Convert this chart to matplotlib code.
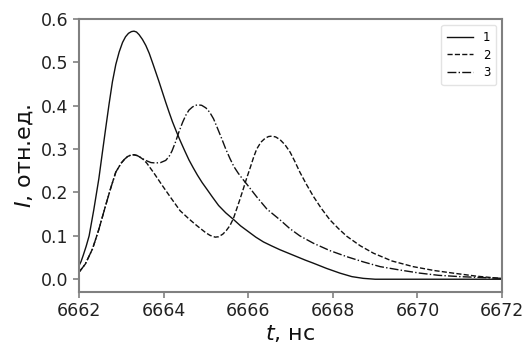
import matplotlib
matplotlib.use("Agg")
import matplotlib.pyplot as plt

# values
t1 = [6662.0, 6662.05, 6662.1, 6662.17, 6662.24, 6662.35, 6662.47, 6662.55, 6662.63, 6662.71,
      6662.79, 6662.87, 6662.95, 6663.03, 6663.1, 6663.17, 6663.24, 6663.3, 6663.36, 6663.42,
      6663.5, 6663.58, 6663.66, 6663.75, 6663.82, 6663.89, 6663.97, 6664.05, 6664.13, 6664.21,
      6664.3, 6664.39, 6664.5, 6664.6, 6664.7, 6664.8, 6664.91, 6665.02, 6665.15, 6665.3,
      6665.47, 6665.65, 6665.82, 6666.0, 6666.18, 6666.36, 6666.55, 6666.75, 6666.95, 6667.15,
      6667.35, 6667.54, 6667.85, 6668.17, 6668.45, 6668.72, 6669.0, 6672.0]
i1 = [0.031, 0.041, 0.055, 0.076, 0.10, 0.16, 0.232, 0.29, 0.347, 0.403,
      0.455, 0.495, 0.524, 0.546, 0.559, 0.567, 0.571, 0.572, 0.570, 0.564,
      0.553, 0.539, 0.521, 0.496, 0.476, 0.456, 0.432, 0.408, 0.385, 0.363,
      0.341, 0.32, 0.296, 0.275, 0.257, 0.24, 0.223, 0.208, 0.19, 0.17,
      0.153, 0.138, 0.123, 0.11, 0.097, 0.086, 0.077, 0.068, 0.06, 0.052,
      0.044, 0.037, 0.025, 0.014, 0.006, 0.002, 0.0, 0.0]

t2 = [6662.0, 6662.15, 6662.32, 6662.47, 6662.63, 6662.75, 6662.87, 6663.0, 6663.08, 6663.15,
      6663.22, 6663.3, 6663.38, 6663.45, 6663.52, 6663.6, 6663.77, 6663.97, 6664.17, 6664.39,
      6664.6, 6664.78, 6665.0, 6665.1, 6665.22, 6665.3, 6665.4, 6665.48, 6665.57, 6665.65,
      6665.72, 6665.8, 6665.88, 6665.96, 6666.05, 6666.13, 6666.2, 6666.3, 6666.4, 6666.48,
      6666.56, 6666.65, 6666.75, 6666.87, 6666.99, 6667.1, 6667.22, 6667.38, 6667.54, 6667.73,
      6667.93, 6668.13, 6668.33, 6668.65, 6668.96, 6669.4, 6669.9, 6670.4, 6670.85, 6671.4,
      6671.95]
i2 = [0.016, 0.035, 0.070, 0.115, 0.17, 0.21, 0.247, 0.268, 0.277, 0.283,
      0.286, 0.287, 0.285, 0.281, 0.276, 0.268, 0.245, 0.216, 0.188, 0.158,
      0.139, 0.124, 0.107, 0.101, 0.097, 0.098, 0.104, 0.112, 0.124, 0.14,
      0.16, 0.183, 0.207, 0.232, 0.258, 0.282, 0.300, 0.316, 0.325, 0.329,
      0.330, 0.328, 0.322, 0.31, 0.293, 0.272, 0.247, 0.218, 0.191, 0.163,
      0.137, 0.117, 0.099, 0.077, 0.06, 0.042, 0.029, 0.02, 0.014, 0.007,
      0.002]

t3 = [6662.0, 6662.15, 6662.32, 6662.47, 6662.63, 6662.75, 6662.87, 6663.0, 6663.08, 6663.15,
      6663.22, 6663.3, 6663.38, 6663.45, 6663.52, 6663.6, 6663.7, 6663.81, 6663.93, 6664.05,
      6664.13, 6664.2, 6664.28, 6664.36, 6664.45, 6664.53, 6664.6, 6664.68, 6664.75, 6664.82,
      6664.9, 6665.0, 6665.09, 6665.18, 6665.27, 6665.37, 6665.47, 6665.57, 6665.66, 6665.76,
      6665.86, 6665.96, 6666.08, 6666.2, 6666.32, 6666.44, 6666.6, 6666.75, 6666.98, 6667.22,
      6667.54, 6667.93, 6668.33, 6668.72, 6669.12, 6669.6, 6670.06, 6670.5, 6671.0, 6671.5,
      6672.0]
i3 = [0.016, 0.035, 0.070, 0.115, 0.17, 0.21, 0.247, 0.268, 0.277, 0.283,
      0.286, 0.287, 0.285, 0.281, 0.277, 0.273, 0.269, 0.268, 0.269, 0.274,
      0.283, 0.296, 0.316, 0.339, 0.362, 0.379, 0.39, 0.397, 0.401, 0.402,
      0.401, 0.395, 0.385, 0.37, 0.349, 0.325, 0.3, 0.278, 0.26, 0.245,
      0.232, 0.22, 0.205, 0.19, 0.176, 0.162, 0.149, 0.137, 0.117, 0.10,
      0.083, 0.066, 0.052, 0.04, 0.029, 0.021, 0.014, 0.009, 0.006, 0.004,
      0.002]

xticks = [6662, 6664, 6666, 6668, 6670, 6672]
yticks = [0.0, 0.1, 0.2, 0.3, 0.4, 0.5, 0.6]

GRAY = "#808080"

fig = plt.figure(figsize=(5.23, 3.52), dpi=100, facecolor="white")
ax = fig.add_axes([0.151, 0.171, 0.809, 0.775])

ax.plot(t1, i1, color="#111111", linewidth=1.0, linestyle="-", label="1")
ax.plot(t2, i2, color="#111111", linewidth=1.0, linestyle="--", label="2")
ax.plot(t3, i3, color="#111111", linewidth=1.0, linestyle="-.", label="3")

ax.set_xlim(6662, 6672)
ax.set_ylim(-0.029, 0.6)
ax.set_xticks(xticks)
ax.set_yticks(yticks)
ax.set_yticklabels([f"{v:.1f}" for v in yticks])

for spine in ax.spines.values():
    spine.set_edgecolor(GRAY)
    spine.set_linewidth(1.5)
ax.tick_params(colors="#222222", labelsize=12.5, length=4, width=1.2)
ax.tick_params(axis="both", color=GRAY)

ax.set_xlabel(r"$t$, нс", fontsize=16, color="#111111", labelpad=2)
ax.set_ylabel(r"$I$, отн.ед.", fontsize=16, color="#111111", labelpad=4)

ax.legend(loc="upper right", fontsize=8.5, frameon=True, handlelength=2.2,
          borderpad=0.5, labelspacing=0.4, edgecolor="#dddddd")

fig.savefig("out.png", dpi=100, facecolor="white")
